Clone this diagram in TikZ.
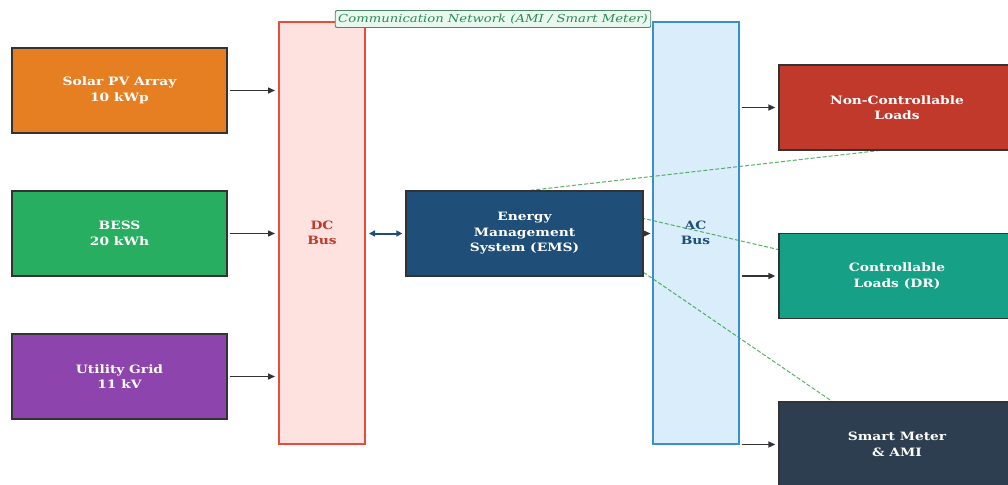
\documentclass[tikz,border=0pt]{standalone}
\usepackage{fontspec}
\setmainfont[FakeStretch=1.2]{DejaVu Serif}
\usetikzlibrary{arrows.meta}
\definecolor{cSolar}{HTML}{E67E22}
\definecolor{cBess}{HTML}{27AE60}
\definecolor{cGrid}{HTML}{8E44AD}
\definecolor{cEms}{HTML}{1F4E79}
\definecolor{cNc}{HTML}{C0392B}
\definecolor{cCtrl}{HTML}{16A085}
\definecolor{cSm}{HTML}{2C3E50}
\definecolor{cDcFill}{HTML}{FDE2DF}
\definecolor{cDcLine}{HTML}{E74C3C}
\definecolor{cAcFill}{HTML}{D9EDFA}
\definecolor{cAcLine}{HTML}{3A8FD0}
\definecolor{cComFill}{HTML}{E8F8EE}
\definecolor{cComText}{HTML}{2E8B57}
\definecolor{cArrow}{HTML}{333333}
\tikzset{
  blockbox/.style={draw=cArrow, line width=1.3pt, inner sep=0pt, text=white,
    font=\fontsize{11.5}{15.5}\selectfont\bfseries, align=center},
  busbox/.style={line width=2pt, inner sep=0pt, minimum width=86pt, minimum height=422pt,
    font=\fontsize{11.5}{15.5}\selectfont\bfseries, align=center},
  flow/.style={draw=cArrow, line width=1.4pt, -{Triangle[length=7pt,width=6pt]}},
  bidir/.style={draw=cEms, line width=2pt, {Triangle[length=6pt,width=6pt]}-{Triangle[length=6pt,width=6pt]}},
  comm/.style={draw=cBess!80!olive, dashed, dash pattern=on 4pt off 2pt, line width=1pt, opacity=0.85}
}
\begin{document}
\begin{tikzpicture}[x=1pt,y=-1pt]
\useasboundingbox[fill=white] (0,0) rectangle (1008,484);
% buses
\node[busbox, draw=cDcLine, fill=cDcFill, text=cNc] (dc) at (322,233) {DC\\Bus};
\node[busbox, draw=cAcLine, fill=cAcFill, text=cEms] (ac) at (695.5,233) {AC\\Bus};
% comm line end points
\coordinate (emsn) at (524.5,191);
\coordinate (ncs) at (893,149);
\coordinate (ctrlc) at (893,276);
\coordinate (smc) at (893,443);
\draw[comm] (emsn) -- (ncs);
\draw[comm] (emsn) -- (ctrlc);
\draw[comm] (emsn) -- (smc);
% sources
\node[blockbox, fill=cSolar, minimum width=215pt, minimum height=85pt] (solar) at (119.5,90.5) {Solar PV Array\\10 kWp};
\node[blockbox, fill=cBess, minimum width=215pt, minimum height=85pt] (bess) at (119.5,233.5) {BESS\\20 kWh};
\node[blockbox, fill=cGrid, minimum width=215pt, minimum height=85pt] (grid) at (119.5,376.5) {Utility Grid\\11 kV};
% EMS
\node[blockbox, fill=cEms, minimum width=237pt, minimum height=85pt] (ems) at (524.5,233.5) {Energy\\Management\\System (EMS)};
% loads
\node[blockbox, fill=cNc, minimum width=236pt, minimum height=85pt] (nc) at (897,107.5) {Non-Controllable\\Loads};
\node[blockbox, fill=cCtrl, minimum width=236pt, minimum height=85pt] (ctrl) at (897,276) {Controllable\\Loads (DR)};
\node[blockbox, fill=cSm, minimum width=236pt, minimum height=85pt] (sm) at (897,444.5) {Smart Meter\\\& AMI};
% arrows
\draw[flow] ([xshift=2pt]solar.east) -- ([xshift=-3pt]solar.east-|dc.west);
\draw[flow] ([xshift=2pt]bess.east) -- ([xshift=-3pt]bess.east-|dc.west);
\draw[flow] ([xshift=2pt]grid.east) -- ([xshift=-3pt]grid.east-|dc.west);
\draw[bidir] ([xshift=3pt]dc.east|-ems.west) -- ([xshift=-3pt]ems.west);
\draw[flow] (ems.east) -- ([xshift=-1pt]ems.east-|ac.west);
\draw[flow] ([xshift=2pt]ac.east|-nc.west) -- ([xshift=-3pt]nc.west);
\draw[flow] ([xshift=2pt]ac.east|-ctrl.west) -- ([xshift=-3pt]ctrl.west);
\draw[flow] ([xshift=2pt]ac.east|-sm.west) -- ([xshift=-3pt]sm.west);
% comm label
\node[draw=cComText!60!gray, fill=cComFill, rounded corners=2pt, line width=0.9pt, inner xsep=3pt, inner ysep=3.5pt,
  text=cComText, font=\fontsize{11}{13}\selectfont\itshape] (commlabel) at (493,19) {Communication Network (AMI / Smart Meter)};
\end{tikzpicture}
\end{document}
